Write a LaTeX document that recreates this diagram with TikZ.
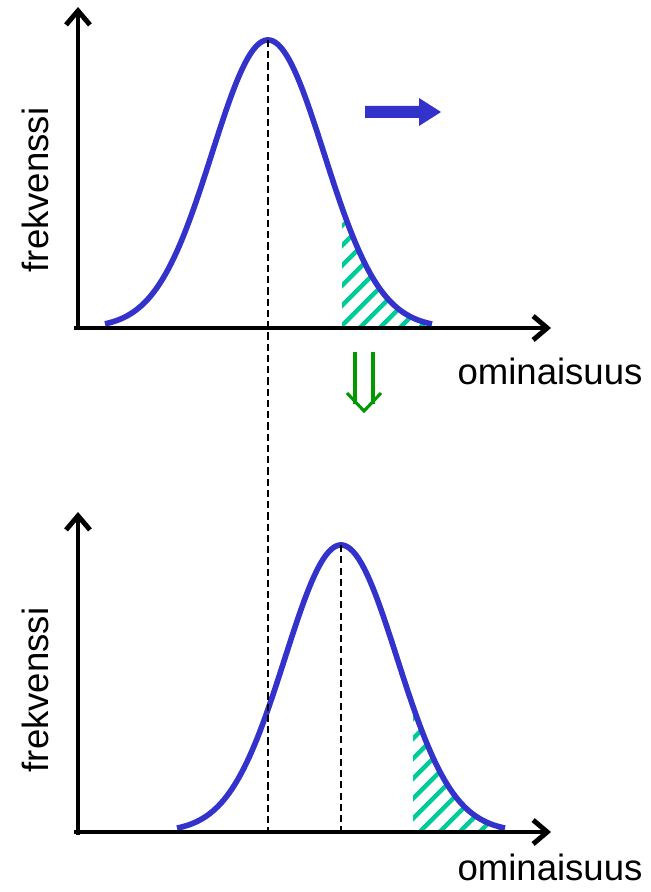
\documentclass[tikz,border=0pt]{standalone}
\usepackage{fontspec}
\setmainfont{Liberation Sans}
\usepackage{tikz}
\usetikzlibrary{arrows.meta,patterns.meta,calc}
\definecolor{curveblue}{HTML}{3333CC}
\definecolor{hatchgreen}{HTML}{00CC99}
\definecolor{shiftgreen}{HTML}{009900}

\begin{document}
\begin{tikzpicture}[x=0.025cm,y=-0.025cm,>={Straight Barb[length=10pt,width=17pt]}]
\tikzset{axis/.style={line width=3.5pt,->},
  curve/.style={curveblue,line width=4pt,line join=round},
  hatch/.style={pattern={Lines[angle=45,distance=10.5pt,line width=3.5pt]},pattern color=hatchgreen},
  lbl/.style={font=\fontsize{26}{30}\selectfont,inner sep=0pt},
  guide/.style={black,line width=1.3pt,dash pattern=on 5pt off 3pt}}
\useasboundingbox (0,0) rectangle (650,892);
% upper plot
\coordinate (o1) at (78,328);
\coordinate (p1) at (268,40);
\fill[hatch] (342,328) -- plot[domain=342:432,samples=40] ({\x},{328-288*exp(-0.5*((\x-268)/56)^2)}) -- (432,328) -- cycle;
\draw[curve] plot[domain=105:432,samples=120] ({\x},{328-288*exp(-0.5*((\x-268)/56)^2)});
\draw[axis] (78,330) -- (78,7);
\draw[axis] (74,328) -- (551,328);
\node[lbl,rotate=90] (f1) at (35,190) {frekvenssi};
\node[lbl] (x1) at (550,371) {ominaisuus};
% lower plot
\coordinate (o2) at (78,832);
\coordinate (p2) at (341,545);
\fill[hatch] (413,832) -- plot[domain=413:505,samples=40] ({\x},{832-287*exp(-0.5*((\x-341)/56)^2)}) -- (505,832) -- cycle;
\draw[curve] plot[domain=177:505,samples=120] ({\x},{832-287*exp(-0.5*((\x-341)/56)^2)});
\draw[axis] (78,835) -- (78,512);
\draw[axis] (74,832) -- (551,832);
\node[lbl,rotate=90] (f2) at (35,690) {frekvenssi};
\node[lbl] (x2) at (550,867) {ominaisuus};
% guides
\draw[guide] (p1) -- (p1 |- o2);
\draw[guide] (p2) -- (p2 |- o2);
% shift arrows
\fill[curveblue] (365,106) -- (419,106) -- (419,98) -- (441,112) -- (419,126) -- (419,118) -- (365,118) -- cycle;
\draw[shiftgreen,line width=2.2pt] (355,352) -- (355,404) (373,352) -- (373,404);
\draw[shiftgreen,line width=2.2pt,line join=miter] (347,393) -- (364,411) -- (381,393);
\end{tikzpicture}
\end{document}
